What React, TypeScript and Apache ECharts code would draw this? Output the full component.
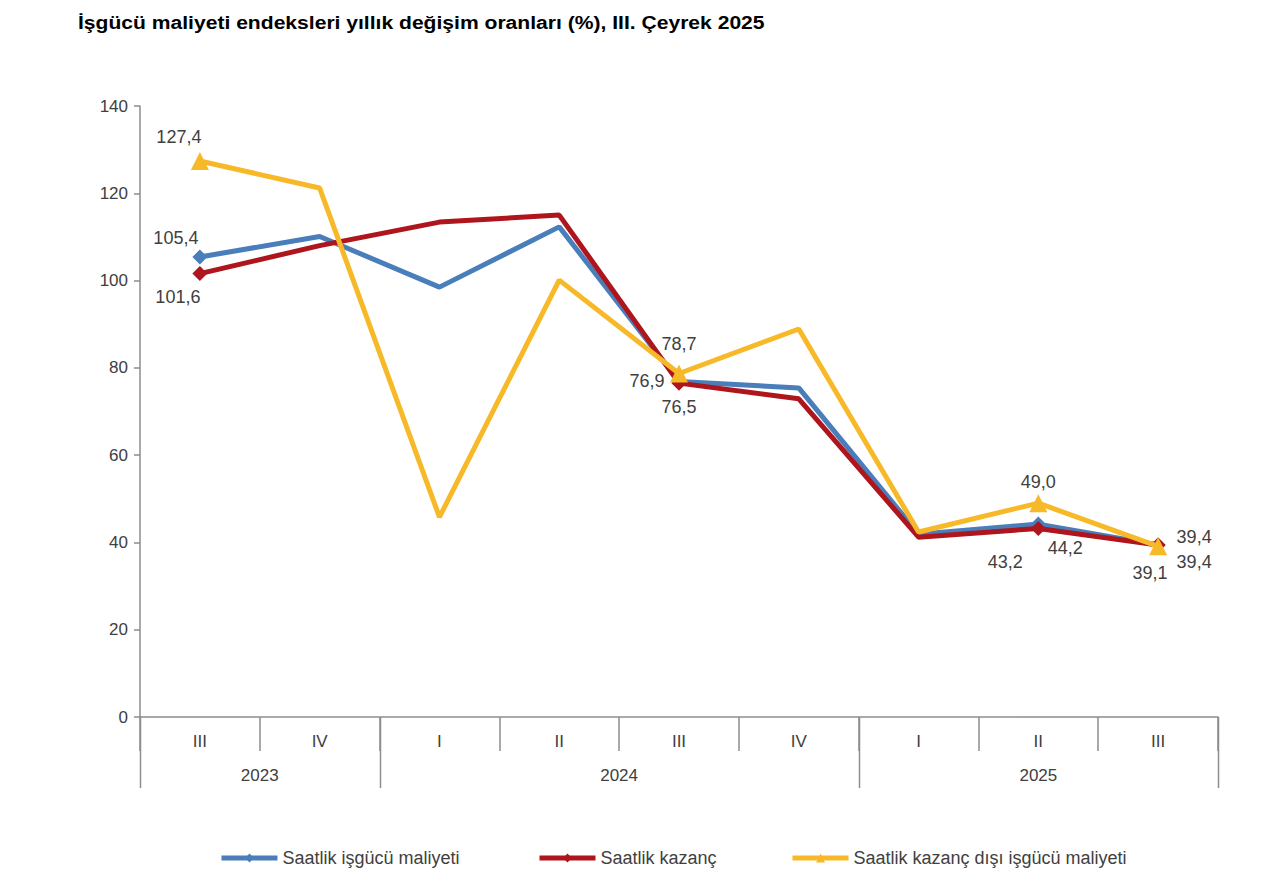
import React, { useEffect, useRef } from "react";
import * as echarts from "echarts";

const titleText = "İşgücü maliyeti endeksleri yıllık değişim oranları (%), III. Çeyrek 2025";
const quarters = ["III", "IV", "I", "II", "III", "IV", "I", "II", "III"];
const yearGroups = [
  { label: "2023", count: 2 },
  { label: "2024", count: 4 },
  { label: "2025", count: 3 },
];
const seriesNames = [
  "Saatlik işgücü maliyeti",
  "Saatlik kazanç",
  "Saatlik kazanç dışı işgücü maliyeti",
];
const hourlyLabourCost = [105.4, 110.1, 98.5, 112.3, 76.9, 75.4, 41.9, 44.2, 39.4];
const hourlyEarnings = [101.6, 108.0, 113.4, 115.0, 76.5, 72.9, 41.2, 43.2, 39.4];
const nonEarningsCost = [127.4, 121.2, 45.8, 100.1, 78.7, 88.9, 42.4, 49.0, 39.1];
const yTicks = { min: 0, max: 140, interval: 20 };

// label placement: index -> [position, offsetX, offsetY]
const blueLabels: Record<number, [string, number, number]> = {
  0: ["top", -24, 2],
  4: ["left", -2, 0],
  7: ["bottom", 27, 2],
  8: ["right", 6, 17],
};
const redLabels: Record<number, [string, number, number]> = {
  0: ["bottom", -22, 2],
  4: ["bottom", 0, 2],
  7: ["bottom", -33, 12],
  8: ["right", 6, -8],
};
const yellowLabels: Record<number, [string, number, number]> = {
  0: ["top", -21, -1],
  4: ["top", 0, -7],
  7: ["top", 0, 2],
  8: ["bottom", -8, 4],
};

const W = 1280;
const H = 883;
const gridLeft = 140;
const gridRightEdge = 1218;
const gridTop = 106;
const gridBottomEdge = 717;
const legendLefts = [214, 532, 785];
const FONT = "'Liberation Sans', Arial, sans-serif";
const TEXT_COLOR = "#404040";
const AXIS_COLOR = "#8c8c8c";
const COLORS = ["#4A7EBB", "#AE151D", "#F7B928"];
const SYMBOLS = ["diamond", "diamond", "triangle"];

const fmt = (v: number) => v.toFixed(1).replace(".", ",");

function buildData(values: number[], labels: Record<number, [string, number, number]>, size: number) {
  return values.map((v, i) => {
    const l = labels[i];
    if (!l) return { value: v, symbolSize: 0 };
    return {
      value: v,
      symbolSize: size,
      label: {
        show: true,
        position: l[0],
        offset: [l[1], l[2]],
        formatter: () => fmt(v),
        fontSize: 18,
        color: TEXT_COLOR,
        fontFamily: FONT,
      },
    };
  });
}

export default function App() {
  const ref = useRef<HTMLDivElement>(null);
  useEffect(() => {
    if (!ref.current) return;
    const chart = echarts.init(ref.current, undefined, { renderer: "svg" });
    const catW = (gridRightEdge - gridLeft) / quarters.length;
    const graphics: any[] = [
      {
        type: "text",
        x: 78,
        y: 22,
        scaleX: 1.11,
        style: {
          text: titleText,
          fill: "#000",
          font: `bold 19px ${FONT}`,
          align: "left",
          verticalAlign: "middle",
        },
      },
    ];
    let start = 0;
    const boundaries = [0];
    yearGroups.forEach((g) => {
      const end = start + g.count;
      boundaries.push(end);
      graphics.push({
        type: "text",
        x: gridLeft + ((start + end) / 2) * catW,
        y: gridBottomEdge + 58,
        style: {
          text: g.label,
          fill: TEXT_COLOR,
          font: `17px ${FONT}`,
          align: "center",
          verticalAlign: "middle",
        },
      });
      start = end;
    });
    boundaries.forEach((b) => {
      const x = Math.round(gridLeft + b * catW) + 0.5;
      graphics.push({
        type: "line",
        shape: { x1: x, y1: gridBottomEdge, x2: x, y2: gridBottomEdge + 71 },
        style: { stroke: AXIS_COLOR, lineWidth: 1.5 },
      });
    });

    const dataSets = [
      buildData(hourlyLabourCost, blueLabels, 15),
      buildData(hourlyEarnings, redLabels, 15),
      buildData(nonEarningsCost, yellowLabels, 18),
    ];

    chart.setOption({
      animation: false,
      grid: {
        left: gridLeft,
        right: W - gridRightEdge,
        top: gridTop,
        bottom: H - gridBottomEdge,
        containLabel: false,
      },
      legend: seriesNames.map((n, i) => ({
        left: legendLefts[i],
        top: 844,
        itemWidth: 56,
        itemHeight: 11,
        lineStyle: { width: 5 },
        textStyle: { fontSize: 18, color: TEXT_COLOR, fontFamily: FONT },
        data: [n],
      })),
      xAxis: {
        type: "category",
        data: quarters,
        boundaryGap: true,
        axisLine: { show: true, lineStyle: { color: AXIS_COLOR, width: 1.5 } },
        axisTick: { show: true, interval: 0, length: 34, lineStyle: { color: AXIS_COLOR, width: 1.5 } },
        axisLabel: { interval: 0, fontSize: 17, color: TEXT_COLOR, fontFamily: FONT, margin: 16 },
      },
      yAxis: {
        type: "value",
        min: yTicks.min,
        max: yTicks.max,
        interval: yTicks.interval,
        splitLine: { show: false },
        axisLine: { show: true, lineStyle: { color: AXIS_COLOR, width: 1.5 } },
        axisTick: { show: true, length: 6, lineStyle: { color: AXIS_COLOR, width: 1.5 } },
        axisLabel: { fontSize: 17, color: TEXT_COLOR, fontFamily: FONT, margin: 12 },
      },
      series: seriesNames.map((n, i) => ({
        name: n,
        type: "line",
        symbol: SYMBOLS[i],
        showAllSymbol: true,
        itemStyle: { color: COLORS[i] },
        lineStyle: { width: 5, color: COLORS[i] },
        data: dataSets[i],
        z: 3 + i,
      })),
      graphic: graphics,
    });
    return () => chart.dispose();
  }, []);
  return (
    <div
      ref={ref}
      style={{ position: "absolute", left: 0, top: 0, width: W, height: H, background: "#fff" }}
    />
  );
}
